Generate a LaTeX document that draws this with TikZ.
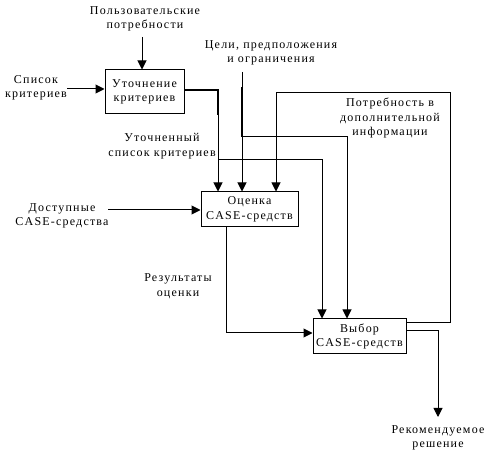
\documentclass[tikz,border=0pt]{standalone}
\usepackage{fontspec}
\setmainfont{Liberation Serif}[LetterSpace=10]
\usetikzlibrary{arrows.meta}
\begin{document}
\begin{tikzpicture}[x=1pt,y=-1pt,
  every node/.style={font=\fontsize{12}{14.5}\selectfont, align=center, inner sep=0pt},
  proc/.style={draw, line width=1pt, rectangle},
  lbl/.style={},
  arr/.style={line width=1pt, -{Triangle[length=9pt,width=9pt]}},
  thick line/.style={line width=2.2pt}
]
\useasboundingbox (0,0) rectangle (485,454);
% boxes
\node[proc, minimum width=79pt, minimum height=44pt] (b1) at (144.5,92) {Уточнение\\критериев};
\node[proc, minimum width=97pt, minimum height=35pt] (b2) at (249.5,209.5) {Оценка\\CASE-средств};
\node[proc, minimum width=93pt, minimum height=35pt] (b3) at (359.5,336.5) {Выбор\\CASE-средств};
% labels
\node[lbl] (tPn) at (145,19) {Пользовательские\\потребности};
\node[lbl] (tSk) at (36,88) {Список\\критериев};
\node[lbl] (tCel) at (271,53) {Цели, предположения\\и ограничения};
\node[lbl] (tPotr) at (390,118) {Потребность в\\дополнительной\\информации};
\node[lbl] (tUt) at (162,146) {Уточненный\\список критериев};
\node[lbl] (tDost) at (62,216) {Доступные\\CASE-средства};
\node[lbl] (tRez) at (178,286) {Результаты\\оценки};
\node[lbl] (tRek) at (438,438) {Рекомендуемое\\решение};
% coordinates
\coordinate (pnS) at (142,37);
\coordinate (skS) at (67,89);
\coordinate (o1) at (184,90);
\coordinate (c1) at (218,90);
\coordinate (c1b) at (218,115);
\coordinate (c1s) at (218,160);
\coordinate (c1r) at (322,160);
\coordinate (celS) at (242,72);
\coordinate (celT1) at (242,87);
\coordinate (celT2) at (242,137);
\coordinate (celR) at (347,137);
\coordinate (fb0) at (406,323);
\coordinate (fb1) at (450,323);
\coordinate (fb2) at (450,93);
\coordinate (fb3) at (276,93);
\coordinate (dS) at (108,210);
\coordinate (o2) at (226,227);
\coordinate (o2c) at (226,333);
\coordinate (o3) at (406,331);
\coordinate (o3c) at (438,331);
\coordinate (o3e) at (438,417);
% connectors
\draw[arr] (pnS) -- (pnS |- b1.north);
\draw[arr] (skS) -- (skS -| b1.west);
\draw[arr] (o1) -- (c1) -- (c1 |- b2.north);
\draw[thick line] (o1) -- (c1) -- (c1b);
\draw[arr] (c1s) -- (c1r) -- (c1r |- b3.north);
\draw[arr] (celS) -- (celS |- b2.north);
\draw[thick line] (celT1) -- (celT2);
\draw[arr] (celT2) -- (celR) -- (celR |- b3.north);
\draw[arr] (fb0) -- (fb1) -- (fb2) -- (fb3) -- (fb3 |- b2.north);
\draw[arr] (dS) -- (dS -| b2.west);
\draw[arr] (o2) -- (o2c) -- (o2c -| b3.west);
\draw[arr] (o3) -- (o3c) -- (o3e);
\end{tikzpicture}
\end{document}
